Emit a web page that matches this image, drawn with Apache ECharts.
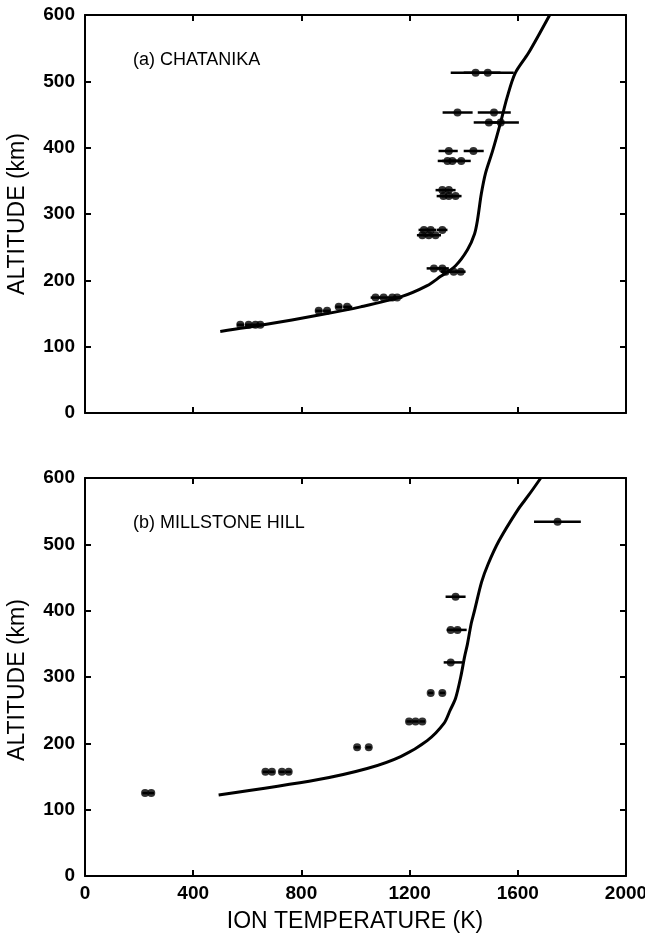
<!DOCTYPE html>
<html>
<head>
<meta charset="utf-8">
<script src="https://cdn.jsdelivr.net/npm/echarts@6/dist/echarts.min.js"></script>
<style>
  html, body { margin: 0; padding: 0; background: #fff; }
  #chart { width: 645px; height: 939px; }
</style>
</head>
<body>
<div id="chart"></div>
<script>
// tick values
const tempTicks = [0, 400, 800, 1200, 1600, 2000];
const altTicks = [0, 100, 200, 300, 400, 500, 600];

// (a) Chatanika: model curve [temperature K, altitude km]
const chatModel = [
  [500, 123], [660, 133], [870, 148], [1019, 160], [1167, 175], [1265, 192],
  [1315, 206], [1370, 222], [1414, 246], [1440, 270], [1451, 291], [1465, 330],
  [1481, 362], [1506, 394], [1537, 439], [1560, 475], [1590, 512], [1640, 543],
  [1718, 600]
];
// (a) measurements [temperature, altitude, lower, upper]
const chatPoints = [
  [1444, 513, 1352, 1536], [1489, 513, 1400, 1585],
  [1377, 453, 1322, 1433], [1512, 453, 1452, 1574],
  [1493, 438, 1437, 1549], [1537, 438, 1480, 1604],
  [1345, 395, 1307, 1378], [1436, 395, 1400, 1474],
  [1340, 380, 1304, 1376], [1358, 380, 1320, 1395], [1391, 380, 1355, 1426],
  [1321, 336, 1296, 1346], [1345, 336, 1320, 1370],
  [1325, 327, 1300, 1350], [1345, 327, 1320, 1370], [1370, 327, 1345, 1392],
  [1253, 276, 1233, 1273], [1278, 276, 1258, 1298], [1321, 276, 1300, 1340],
  [1247, 268, 1227, 1267], [1271, 268, 1251, 1291], [1296, 268, 1276, 1316],
  [1290, 218, 1263, 1317], [1321, 218, 1300, 1345],
  [1333, 213, 1315, 1355], [1363, 213, 1340, 1385], [1389, 213, 1368, 1407],
  [1074, 174, 1056, 1092], [1104, 174, 1086, 1122], [1136, 174, 1118, 1154], [1154, 174, 1138, 1173],
  [938, 160, 926, 950], [969, 160, 955, 988],
  [864, 154, 852, 878], [895, 154, 880, 907],
  [574, 133, 562, 588], [605, 133, 592, 618], [630, 133, 618, 642], [648, 133, 636, 660]
];

// (b) Millstone Hill: model curve
const millModel = [
  [494, 122], [858, 145], [1043, 162], [1167, 180], [1265, 204], [1327, 230],
  [1350, 250], [1370, 268], [1389, 300], [1403, 330], [1414, 350], [1428, 381],
  [1440, 400], [1466, 443], [1490, 470], [1530, 505], [1600, 552], [1640, 574],
  [1685, 600]
];
// (b) measurements [temperature, altitude, lower, upper]
const millPoints = [
  [1747, 534, 1660, 1833],
  [1370, 421, 1333, 1407],
  [1352, 371, 1337, 1390], [1377, 371, 1360, 1411],
  [1352, 322, 1326, 1396],
  [1278, 276, 1268, 1288], [1321, 276, 1311, 1331],
  [1198, 233, 1188, 1208], [1222, 233, 1212, 1232], [1247, 233, 1237, 1257],
  [1006, 194, 996, 1016], [1049, 194, 1039, 1059],
  [667, 157, 657, 677], [691, 157, 681, 701], [728, 157, 718, 738], [753, 157, 743, 763],
  [222, 125, 212, 232], [245, 125, 235, 255]
];

const FONT = '"Liberation Sans", Arial, sans-serif';
const chart = echarts.init(document.getElementById('chart'));

const grids = [
  { left: 85, top: 15, width: 541, height: 398, outerBoundsMode: 'none', containLabel: false },
  { left: 85, top: 478, width: 541, height: 398, outerBoundsMode: 'none', containLabel: false }
];

const tickLabel = { color: '#000', fontFamily: FONT, fontSize: 19, fontWeight: 'bold', formatter: v => String(v) };

// bottom/left axes with labels, top/right axes only for inside ticks
const makeX = (gi, pos, labels) => ({
  type: 'value', gridIndex: gi, position: pos, min: tempTicks[0], max: tempTicks[tempTicks.length - 1], interval: 400,
  axisLine: { show: true, onZero: false, lineStyle: { color: '#000', width: 2 } },
  axisTick: { show: true, inside: true, length: 6, lineStyle: { color: '#000', width: 2 } },
  axisLabel: Object.assign({ show: labels, margin: 8 }, tickLabel),
  splitLine: { show: false }
});
const makeY = (gi, pos, labels) => ({
  type: 'value', gridIndex: gi, position: pos, min: altTicks[0], max: altTicks[altTicks.length - 1], interval: 100,
  axisLine: { show: true, onZero: false, lineStyle: { color: '#000', width: 2 } },
  axisTick: { show: true, inside: true, length: 6, lineStyle: { color: '#000', width: 2 } },
  axisLabel: Object.assign({ show: labels, margin: 10 }, tickLabel),
  splitLine: { show: false }
});

const errorBars = (pts, xi, yi) => ({
  type: 'custom', xAxisIndex: xi, yAxisIndex: yi, silent: true,
  data: pts.map(p => [p[2], p[1], p[3]]),
  renderItem: (params, api) => {
    const a = api.coord([api.value(0), api.value(1)]);
    const b = api.coord([api.value(2), api.value(1)]);
    return { type: 'line', shape: { x1: a[0], y1: a[1], x2: b[0], y2: b[1] },
      style: { stroke: '#000', lineWidth: 2.5 } };
  }
});
const dots = (pts, xi, yi) => ({
  type: 'scatter', xAxisIndex: xi, yAxisIndex: yi, symbol: 'circle', symbolSize: 8,
  itemStyle: { color: '#000' }, data: pts.map(p => [p[0], p[1]])
});
const model = (pts, xi, yi) => ({
  type: 'line', xAxisIndex: xi, yAxisIndex: yi, data: pts, smooth: 0.3,
  showSymbol: false, lineStyle: { color: '#000', width: 3 }
});

chart.setOption({
  animation: false,
  backgroundColor: '#fff',
  grid: grids,
  xAxis: [makeX(0, 'bottom', false), makeX(0, 'top', false), makeX(1, 'bottom', true), makeX(1, 'top', false)],
  yAxis: [makeY(0, 'left', true), makeY(0, 'right', false), makeY(1, 'left', true), makeY(1, 'right', false)],
  graphic: [
    { type: 'text', left: 133, top: 51, style: { text: '(a) CHATANIKA', font: '18px ' + FONT, fill: '#000' } },
    { type: 'text', left: 133, top: 514, style: { text: '(b) MILLSTONE HILL', font: '18px ' + FONT, fill: '#000' } },
    { type: 'text', x: 18, y: 214, rotation: Math.PI / 2,
      style: { text: 'ALTITUDE (km)', font: '23px ' + FONT, fill: '#000', align: 'center', verticalAlign: 'middle' } },
    { type: 'text', x: 18, y: 680, rotation: Math.PI / 2,
      style: { text: 'ALTITUDE (km)', font: '23px ' + FONT, fill: '#000', align: 'center', verticalAlign: 'middle' } },
    { type: 'text', x: 355, y: 922,
      style: { text: 'ION TEMPERATURE (K)', font: '23px ' + FONT, fill: '#000', align: 'center', verticalAlign: 'middle' } }
  ],
  series: [
    model(chatModel, 0, 0), errorBars(chatPoints, 0, 0), dots(chatPoints, 0, 0),
    model(millModel, 2, 2), errorBars(millPoints, 2, 2), dots(millPoints, 2, 2)
  ]
});
</script>
</body>
</html>
